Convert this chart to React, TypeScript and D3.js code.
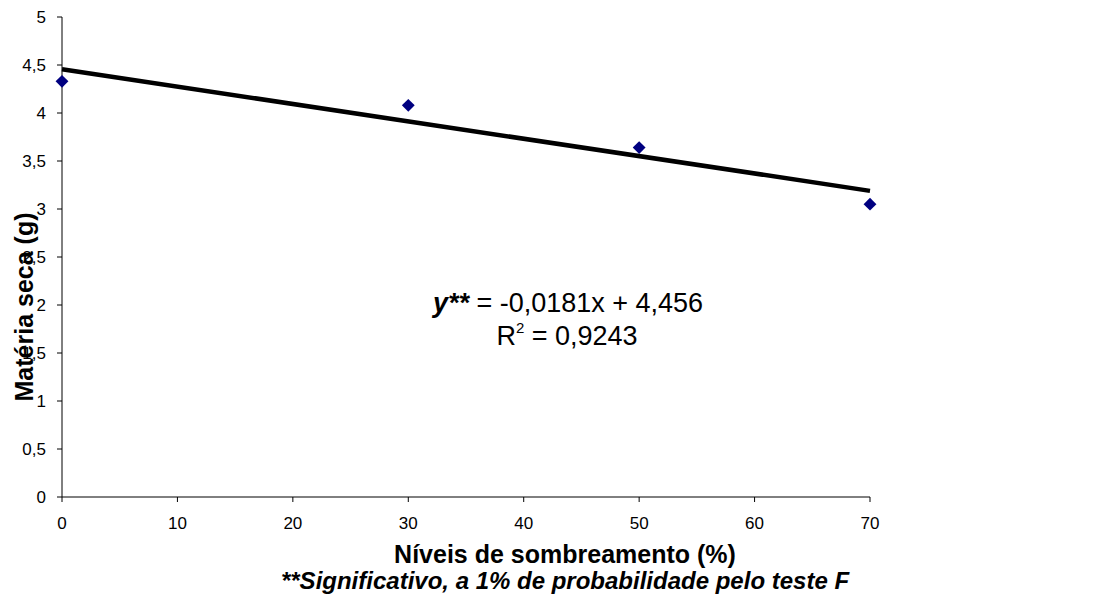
import React from "react";
import * as d3 from "d3";

// Shading levels (%) and measured dry matter (g)
const shading = [0, 30, 50, 70];
const dryMatter = [4.33, 4.08, 3.64, 3.05];

// Fitted linear regression
const slope = -0.0181;
const intercept = 4.456;

const xTicks = [0, 10, 20, 30, 40, 50, 60, 70];
const yTicks = [0, 0.5, 1, 1.5, 2, 2.5, 3, 3.5, 4, 4.5, 5];

const W = 1110;
const H = 599;
const FONT = "'Liberation Sans', Arial, sans-serif";

export default function App() {
  const x = d3.scaleLinear().domain([0, 70]).range([62, 870]);
  const y = d3.scaleLinear().domain([0, 5]).range([497, 17]);

  const fit = d3
    .line<number>()
    .x((d) => x(d))
    .y((d) => y(slope * d + intercept));

  const fmt = (v: number) => String(v).replace(".", ",");
  const diamond = d3.symbol().type(d3.symbolDiamond2).size(105)();

  return (
    <svg
      width={W}
      height={H}
      style={{ position: "absolute", left: 0, top: 0, background: "#fff" }}
      fontFamily={FONT}
    >
      {/* axes */}
      <line x1={x(0)} x2={x(0)} y1={y(0)} y2={y(5)} stroke="#000" strokeWidth={1} />
      <line x1={x(0)} x2={x(70)} y1={y(0)} y2={y(0)} stroke="#000" strokeWidth={1} />
      {yTicks.map((t) => (
        <g key={"y" + t}>
          <line x1={x(0) - 5} x2={x(0)} y1={y(t)} y2={y(t)} stroke="#000" />
          <text x={x(0) - 16} y={y(t)} dy="0.36em" textAnchor="end" fontSize={17}>
            {fmt(t)}
          </text>
        </g>
      ))}
      {xTicks.map((t) => (
        <g key={"x" + t}>
          <line x1={x(t)} x2={x(t)} y1={y(0)} y2={y(0) + 5} stroke="#000" />
          <text x={x(t)} y={y(0) + 32} textAnchor="middle" fontSize={17}>
            {t}
          </text>
        </g>
      ))}

      {/* regression line */}
      <path d={fit([0, 70]) ?? ""} fill="none" stroke="#000" strokeWidth={4.5} />

      {/* observations */}
      {shading.map((s, i) => (
        <path
          key={"p" + i}
          d={diamond ?? ""}
          transform={`translate(${x(s)},${y(dryMatter[i])})`}
          fill="#000080"
        />
      ))}

      {/* equation */}
      <text x={568} y={312} textAnchor="middle" fontSize={27}>
        <tspan fontWeight="bold" fontStyle="italic">y**</tspan>
        <tspan> = -0,0181x + 4,456</tspan>
      </text>
      <text x={567} y={345} textAnchor="middle" fontSize={27}>
        <tspan>R</tspan>
        <tspan fontSize={15} dy={-12}>2</tspan>
        <tspan dy={12}> = 0,9243</tspan>
      </text>

      {/* axis titles */}
      <text x={565} y={563} textAnchor="middle" fontSize={25} fontWeight="bold">
        Níveis de sombreamento (%)
      </text>
      <text
        x={565}
        y={589}
        textAnchor="middle"
        fontSize={24}
        fontWeight="bold"
        fontStyle="italic"
      >
        **Significativo, a 1% de probabilidade pelo teste F
      </text>
      <text
        transform={`translate(33,307) rotate(-90)`}
        textAnchor="middle"
        fontSize={25}
        fontWeight="bold"
      >
        Matéria seca (g)
      </text>
    </svg>
  );
}
